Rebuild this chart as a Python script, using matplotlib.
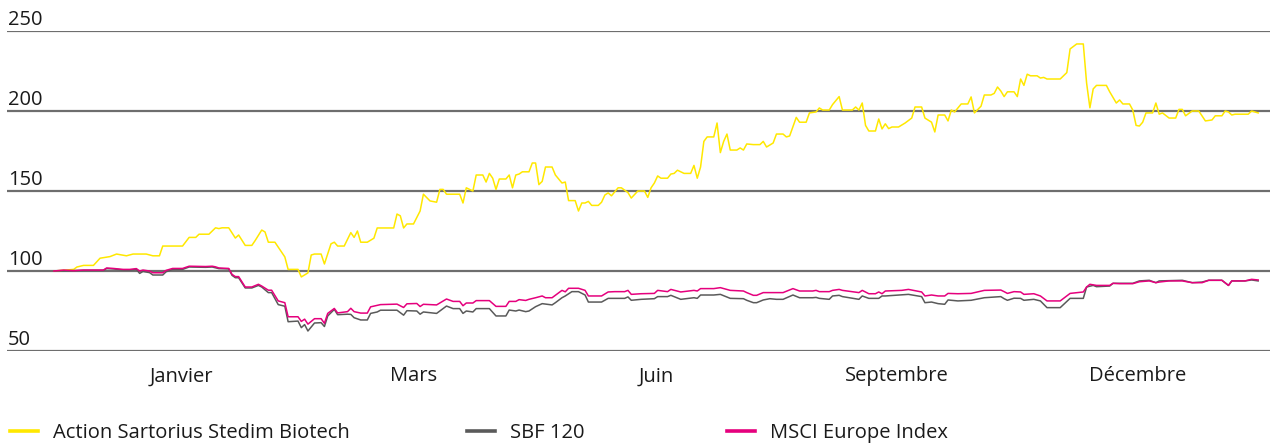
import matplotlib.pyplot as plt
from matplotlib.lines import Line2D

plt.rcParams['font.family'] = ['Open Sans', 'DejaVu Sans']

# Action Sartorius Stedim Biotech (base 100), day of year -> value
sartorius_days = [0, 6, 7, 9, 12, 14, 17, 19, 22, 24, 28, 30, 32, 33, 39, 41, 43, 44, 47, 49,
                  50, 51, 53, 55, 56, 58, 60, 61, 63, 64, 65, 67, 70, 71, 74, 75, 77, 78, 79, 81,
                  82, 84, 85, 86, 88, 90, 91, 92, 93, 95, 97, 98, 103, 104, 105, 106, 107, 109, 111, 112,
                  114, 116, 117, 118, 119, 123, 124, 125, 127, 128, 130, 131, 132, 133, 134, 135, 137, 138, 139, 140,
                  141, 142, 144, 145, 146, 147, 148, 149, 151, 152, 154, 155, 156, 158, 159, 160, 161, 162, 163, 165,
                  166, 167, 168, 169, 171, 172, 174, 175, 177, 179, 180, 181, 182, 183, 184, 186, 187, 188, 189, 191,
                  193, 194, 195, 196, 197, 198, 200, 201, 202, 203, 204, 205, 207, 208, 209, 210, 212, 214, 215, 216,
                  218, 219, 221, 222, 223, 225, 226, 228, 229, 231, 232, 233, 235, 236, 238, 239, 241, 242, 243, 244,
                  245, 246, 247, 249, 250, 251, 252, 253, 254, 256, 258, 260, 261, 263, 264, 266, 267, 268, 270, 271,
                  272, 273, 275, 277, 278, 279, 281, 282, 284, 285, 286, 287, 288, 289, 291, 292, 293, 294, 295, 296,
                  298, 299, 300, 301, 305, 306, 307, 308, 310, 312, 313, 314, 315, 316, 319, 320, 322, 323, 324, 326,
                  327, 328, 329, 330, 331, 333, 334, 335, 336, 338, 340, 341, 342, 343, 345, 347, 349, 351, 352, 354,
                  355, 356, 357, 358, 362, 363, 365]
sartorius_vals = [100, 101, 102.5, 103.5, 103.5, 108, 109, 110.6, 109.5, 110.6, 110.6, 109.5, 109.5, 115.6, 115.6, 121, 121, 123, 123, 127,
                  126.5, 127, 127, 120.6, 122.5, 116, 116, 119, 125.6, 124.4, 118, 118, 108.8, 101, 101, 96.3, 98.8, 110, 110.6, 110.6,
                  104.4, 117, 118, 115.6, 115.6, 124, 121, 125, 118, 118, 120.5, 126.9, 126.9, 135.6, 134.5, 126.9, 129.4, 129.4, 137.5, 148,
                  143.8, 143, 151, 151, 148, 148, 142.5, 152, 150, 160, 160, 155.6, 161, 158, 151, 157.5, 157.5, 160, 152, 160,
                  160.6, 162, 162, 167.5, 167.5, 154, 156, 165, 165, 160, 155, 155.6, 144, 144, 137.5, 142.5, 142.5, 143.5, 141, 141,
                  143, 147.5, 148.8, 147, 152, 152, 149, 145.6, 150, 150, 146, 152, 155, 159.4, 158, 158, 160.6, 161, 163, 161,
                  161, 166, 158, 165, 181, 183.8, 183.8, 192.5, 174, 181, 185.6, 175.6, 175.6, 176.9, 175.6, 179.4, 179, 179, 181, 177.5,
                  180, 185.6, 185.6, 183.8, 184.4, 196, 193, 193, 198.8, 199.4, 201.9, 200.6, 200.6, 204, 209, 200.6, 200.6, 200.6, 202.5, 200.6,
                  205, 191, 187.5, 187.5, 195, 188.8, 192, 189, 190, 190, 192.5, 195.6, 202.5, 202.5, 195.6, 193, 186.9, 197.5, 197.5, 193.8,
                  200.6, 199.4, 204.4, 204.4, 208.8, 198.8, 203, 210, 210, 211, 215, 212.5, 209, 212, 212, 209, 220, 216, 223, 222,
                  222, 220.6, 221, 220, 220, 222, 224, 238.8, 241.9, 241.9, 217.5, 202, 213.8, 216, 216, 212, 205, 206.9, 204.4, 204.4,
                  200.6, 191, 190.6, 193, 198.8, 198.8, 205, 198, 198.8, 195.6, 195.6, 201, 201, 197, 200, 200, 193.8, 194.4, 197, 197,
                  200, 199.4, 197.5, 198, 198, 200, 198.8]

# SBF 120
sbf_days = [0, 9, 15, 16, 18, 21, 23, 25, 26, 27, 29, 30, 33, 34, 36, 39, 41, 46, 48, 49,
            50, 53, 54, 55, 56, 58, 60, 62, 63, 65, 66, 68, 70, 71, 74, 75, 76, 77, 79, 81,
            82, 83, 85, 86, 89, 90, 91, 93, 95, 96, 98, 99, 104, 106, 107, 110, 111, 112, 116, 119,
            121, 123, 124, 125, 127, 128, 132, 134, 137, 138, 140, 141, 143, 144, 146, 148, 151, 152, 154, 155,
            157, 159, 161, 162, 166, 168, 173, 174, 175, 178, 182, 183, 186, 187, 190, 194, 195, 196, 200, 202,
            205, 209, 210, 212, 213, 215, 217, 219, 221, 224, 226, 230, 231, 232, 235, 236, 238, 239, 244, 245,
            247, 250, 251, 252, 259, 263, 264, 266, 268, 270, 271, 274, 278, 282, 287, 288, 289, 291, 293, 294,
            297, 299, 301, 305, 308, 312, 313, 315, 316, 320, 321, 327, 329, 332, 334, 335, 342, 345, 348, 350,
            354, 356, 357, 361, 363, 365]
sbf_vals = [100, 100.4, 100.4, 101.5, 101.3, 100.6, 100.6, 101, 98.5, 99.7, 99, 97.5, 97.5, 99.5, 101, 101, 102.5, 102.3, 102.5, 102,
            101.5, 101.3, 97.3, 95.8, 95.8, 89.4, 89.4, 91, 90, 86.5, 86.5, 79, 78, 68.3, 68.7, 64.6, 66.5, 62.5, 67.5, 67.7,
            65.3, 71.9, 76, 72.7, 73, 72.9, 70.8, 69.4, 69.4, 73.5, 74.4, 75.5, 75.5, 72.4, 75.2, 75, 73, 74.4, 73.5, 78.1,
            76.5, 76.5, 73.5, 75, 74.4, 76.5, 76.5, 71.9, 71.9, 75.6, 75, 75.6, 74.6, 75, 77.7, 79.6, 78.8, 80.2, 83.3, 84.4,
            87.1, 87.1, 85, 80.6, 80.6, 82.9, 82.9, 83.8, 81.7, 82.3, 82.7, 84, 84, 84.8, 82.3, 83.3, 82.9, 85, 85, 85.4,
            82.9, 82.7, 81.7, 80.2, 80.2, 81.9, 82.7, 82.3, 82.3, 85, 83.3, 83.3, 83.5, 82.9, 82.3, 84.4, 84.8, 84, 82.3, 84.4,
            82.9, 82.9, 84.4, 84.4, 85.4, 84, 80.2, 80.6, 79.6, 79.2, 81.9, 81.3, 81.7, 83.3, 84, 82.7, 81.7, 83, 82.9, 81.7,
            82.3, 81.3, 77.1, 77.1, 82.9, 82.9, 90, 91, 90.2, 90.6, 92.3, 92.3, 93.8, 94.2, 92.7, 93.8, 94.2, 92.7, 93.1, 94.2,
            94.2, 91, 93.8, 93.8, 94.4, 93.8]

# MSCI Europe Index
msci_days = [0, 3, 6, 9, 15, 16, 18, 21, 23, 25, 26, 27, 29, 30, 33, 34, 36, 39, 41, 46,
             48, 49, 50, 53, 54, 55, 56, 58, 60, 62, 63, 65, 66, 68, 70, 71, 74, 75, 76, 77,
             79, 81, 82, 83, 85, 86, 89, 90, 91, 93, 95, 96, 99, 104, 106, 107, 110, 111, 112, 116,
             119, 121, 123, 124, 125, 127, 128, 132, 134, 137, 138, 140, 141, 143, 144, 146, 148, 149, 151, 154,
             155, 156, 159, 161, 162, 166, 168, 170, 173, 174, 175, 178, 182, 183, 186, 187, 190, 194, 195, 196,
             200, 202, 205, 209, 210, 212, 213, 215, 217, 221, 224, 226, 230, 231, 232, 235, 236, 238, 239, 244,
             245, 247, 249, 250, 251, 252, 257, 259, 263, 264, 266, 268, 270, 271, 274, 278, 282, 287, 288, 289,
             291, 293, 294, 297, 299, 301, 305, 308, 312, 313, 314, 316, 320, 321, 323, 327, 329, 332, 334, 335,
             338, 342, 345, 348, 350, 354, 356, 357, 361, 363, 365]
msci_vals = [100, 100.6, 100.2, 100.6, 100.6, 101.9, 101.6, 101, 101, 101.5, 100, 100.6, 100, 98.9, 98.9, 100.4, 101.6, 101.6, 103, 102.8,
             103, 102.6, 101.9, 101.6, 97.9, 96.5, 96.5, 90, 90, 91.7, 90.6, 88, 88, 81.3, 80.2, 71.4, 71.4, 68.5, 69.9, 66.8,
             70.2, 70.2, 67.3, 73.5, 76.6, 73.8, 74.6, 76.7, 74.6, 73.7, 73.7, 77.6, 79, 79.3, 77.2, 79.5, 79.7, 77.8, 79.2, 78.8,
             82.5, 81, 81, 78.3, 80, 80, 81.5, 81.5, 77.9, 77.9, 81, 81, 82.1, 81.6, 82.3, 83.3, 84.4, 83.3, 83.3, 87.9,
             87, 89.2, 89.2, 87.9, 84.4, 84.4, 86.9, 87.1, 87.1, 87.9, 85.4, 85.8, 86, 87.9, 87.1, 88.5, 86.9, 87.9, 87.5, 89,
             89, 89.6, 87.9, 87.5, 86.5, 84.8, 84.8, 86.5, 86.5, 86.5, 89, 87.5, 87.5, 87.9, 87.1, 87.1, 87.9, 88.5, 87.9, 86.5,
             87.9, 85.8, 85.8, 86.9, 85.8, 87.5, 87.9, 88.5, 86.9, 84.4, 85, 84.4, 84.4, 86, 85.8, 86, 87.9, 88.1, 87.1, 86,
             87.1, 86.9, 85.4, 85.8, 84.4, 81.3, 81.3, 86, 86.9, 90, 91.7, 91, 91, 92.3, 92.1, 92.1, 93.3, 93.8, 92.7, 93.1,
             93.8, 93.8, 92.7, 92.7, 94.2, 94.2, 91, 93.8, 93.8, 94.8, 94.4]

month_ticks = [38.5, 109, 182.5, 255.5, 328.5]
month_labels = ['Janvier', 'Mars', 'Juin', 'Septembre', 'Décembre']
y_ticks = [50, 100, 150, 200, 250]
series_names = ['Action Sartorius Stedim Biotech', 'SBF 120', 'MSCI Europe Index']
series_colors = ['#ffe800', '#5a5a5a', '#e5007d']

fig = plt.figure(figsize=(12.74, 4.48), dpi=100)
ax = fig.add_axes([0.0055, 0.2165, 0.9914, 0.7143])
ax.set_xlim(-14.2, 368.6)
ax.set_ylim(50, 250)

# grid lines + labels sitting on top of them
for y in y_ticks:
    ax.axhline(y, color='#6e6e6e', lw=1.6, zorder=1)
    ax.annotate(str(y), xy=(0, y), xycoords=ax.get_yaxis_transform(),
                xytext=(0.5, 1), textcoords='offset points',
                ha='left', va='bottom', fontsize=14.5, color='#1a1a1a')

ax.plot(sartorius_days, sartorius_vals, color=series_colors[0], lw=1.1, zorder=3)
ax.plot(sbf_days, sbf_vals, color=series_colors[1], lw=1.1, zorder=3)
ax.plot(msci_days, msci_vals, color=series_colors[2], lw=1.1, zorder=4)

ax.set_xticks(month_ticks, month_labels)
ax.tick_params(axis='x', length=0, pad=11, labelsize=14.5, labelcolor='#1a1a1a')
ax.set_yticks([])
for s in ax.spines.values():
    s.set_visible(False)

# legend, one entry per block to keep the wide spacing
legend_x = [10 / 1274, 467 / 1274, 727 / 1274]
for name, color, lx in zip(series_names, series_colors, legend_x):
    h = Line2D([], [], color=color, lw=2.6)
    fig.legend([h], [name], loc='center left', bbox_to_anchor=(lx, 1 - 433 / 448),
               frameon=False, fontsize=14.5, handlelength=1.4, handletextpad=0.72,
               borderpad=0, borderaxespad=0, labelcolor='#1a1a1a')

fig.savefig('out.png', dpi=100)
